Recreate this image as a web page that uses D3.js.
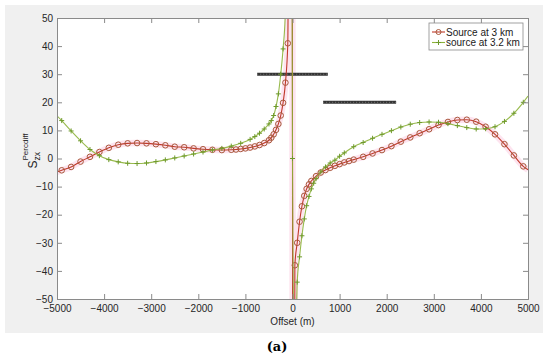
<!DOCTYPE html>
<html>
<head>
<meta charset="utf-8">
<title>S zx Percdiff vs offset</title>
<script src="https://d3js.org/d3.v7.min.js"></script>
<style>
  body { margin: 0; background: #fff; }
  svg { display: block; font-family: 'Liberation Sans', Arial, sans-serif; }
  .tick text { font-size: 10px; fill: #262626; }
  .tick line, .domain { stroke: #8a8a8a; }
</style>
</head>
<body>
<svg></svg>
<script>
// source at 3 km (red, circles)
const redX = [-5000, -4900, -4700, -4500, -4300, -4100, -3900, -3700, -3500, -3300, -3100, -2900, -2700,
  -2500, -2300, -2100, -1900, -1700, -1500, -1300, -1200, -1100, -1000, -900, -800, -700, -600, -500,
  -450, -400, -350, -300, -250, -200, -150, -100, -25, 25, 50, 100, 150, 200, 250, 300, 350, 400,
  500, 600, 700, 800, 900, 1000, 1100, 1200, 1300, 1500, 1700, 1900, 2100, 2300, 2500, 2700, 2900,
  3100, 3300, 3500, 3700, 3900, 4100, 4300, 4500, 4700, 4900, 5000];
const redY = [-4.8, -4.2, -3.0, -1.1, 0.6, 2.3, 3.8, 4.9, 5.4, 5.5, 5.4, 5.1, 4.7,
  4.2, 4.0, 3.6, 3.3, 3.1, 3.0, 3.1, 3.2, 3.4, 3.6, 3.9, 4.3, 4.8, 5.5, 6.5,
  7.4, 8.6, 10.2, 12.3, 15.3, 19.8, 27, 41, 400, -400, -38, -30, -22.5, -17, -13.3, -10.8, -9.2, -8.0,
  -6.3, -5.0, -4.1, -3.3, -2.6, -2.0, -1.4, -0.9, -0.4, 0.6, 1.8, 3.0, 4.4, 6.0, 7.5, 9.0, 10.4,
  11.9, 13.0, 13.7, 13.8, 13.1, 11.3, 8.6, 5.1, 1.1, -2.8, -4.0];

// source at 3.2 km (green, plus signs)
const greenX = [-5000, -4900, -4700, -4500, -4300, -4100, -3900, -3700, -3500, -3300, -3100, -2900, -2700,
  -2500, -2300, -2100, -1900, -1700, -1500, -1300, -1100, -900, -800, -700, -600, -500,
  -450, -400, -350, -300, -250, -200, -150, -50, 0, 50, 100, 150, 200, 250, 300, 350, 400, 450,
  500, 600, 700, 800, 900, 1000, 1100, 1300, 1500, 1700, 1900, 2100, 2300, 2500, 2700, 2900,
  3100, 3300, 3500, 3700, 3900, 4100, 4300, 4500, 4700, 4900, 5000];
const greenY = [15.2, 13.5, 9.8, 6.3, 3.2, 1.0, -0.4, -1.2, -1.7, -1.8, -1.6, -1.1, -0.5,
  0.2, 0.9, 1.6, 2.3, 3.0, 3.6, 4.4, 5.4, 6.8, 7.8, 9.0, 10.5, 12.3,
  13.5, 15.3, 18.5, 23, 30, 39, 53, 300, 0, -80, -44, -35, -27.5, -21.5, -16.8, -13.5, -10.8, -8.8,
  -7.2, -4.8, -3.0, -1.6, -0.6, 0.8, 2.0, 4.2, 5.7, 7.2, 8.6, 9.9, 11.2, 12.2, 12.8, 13.0,
  12.9, 12.4, 11.7, 11.0, 10.5, 10.6, 11.3, 13.2, 16.1, 20.0, 22.2];

// black horizontal bars
const barY = [30, 20];
const barStart = [-750, 650];
const barEnd = [750, 2200];

const xTicks = [-5000, -4000, -3000, -2000, -1000, 0, 1000, 2000, 3000, 4000, 5000];
const yTicks = [-50, -40, -30, -20, -10, 0, 10, 20, 30, 40, 50];

const seriesNames = ['Source at 3 km', 'source at 3.2 km'];

const svg = d3.select('svg')
  .attr('width', 550)
  .attr('height', 359);

const margin = { top: 18, left: 57, right: 22, bottom: 60 };
const innerWidth = 550 - margin.left - margin.right;
const innerHeight = 359 - margin.top - margin.bottom;

// figure background
svg.append('rect')
  .attr('x', 5).attr('y', 5)
  .attr('width', 538).attr('height', 328)
  .attr('fill', '#f0f0f0');

const g = svg.append('g')
  .attr('transform', `translate(${margin.left},${margin.top})`);

g.append('rect')
  .attr('width', innerWidth)
  .attr('height', innerHeight)
  .attr('fill', '#fff');

g.append('clipPath').attr('id', 'plot-clip')
  .append('rect')
  .attr('width', innerWidth)
  .attr('height', innerHeight);

const xScale = d3.scaleLinear().domain([-5000, 5000]).range([0, innerWidth]);
const yScale = d3.scaleLinear().domain([-50, 50]).range([innerHeight, 0]);

const redData = redX.map((x, i) => ({ x: x, y: redY[i] }));
const greenData = greenX.map((x, i) => ({ x: x, y: greenY[i] }));

const line = d3.line()
  .x(d => xScale(d.x))
  .y(d => yScale(d.y))
  .curve(d3.curveMonotoneX);

const plot = g.append('g').attr('clip-path', 'url(#plot-clip)');

// pink glow behind the red curve
plot.append('path')
  .datum(redData)
  .attr('d', line)
  .attr('fill', 'none')
  .attr('stroke', '#fcd8e8')
  .attr('stroke-width', 6.5)
  .attr('stroke-opacity', 0.7);

// black bars
barY.forEach((v, i) => {
  plot.append('line')
    .attr('x1', xScale(barStart[i]))
    .attr('x2', xScale(barEnd[i]))
    .attr('y1', yScale(v))
    .attr('y2', yScale(v))
    .attr('stroke', '#333')
    .attr('stroke-width', 3);
  plot.append('line')
    .attr('x1', xScale(barStart[i]))
    .attr('x2', xScale(barEnd[i]))
    .attr('y1', yScale(v))
    .attr('y2', yScale(v))
    .attr('stroke', '#777')
    .attr('stroke-width', 1)
    .attr('stroke-dasharray', '1,2');
});

// red series
plot.append('path')
  .datum(redData)
  .attr('d', line)
  .attr('fill', 'none')
  .attr('stroke', '#c0392b')
  .attr('stroke-width', 1.1);

plot.selectAll('circle.red')
  .data(redData.filter(d => Math.abs(d.x) < 5000))
  .enter().append('circle')
  .attr('class', 'red')
  .attr('cx', d => xScale(d.x))
  .attr('cy', d => yScale(d.y))
  .attr('r', 2.8)
  .attr('fill', 'none')
  .attr('stroke', '#a85a3c')
  .attr('stroke-width', 1);

// green series
plot.append('path')
  .datum(greenData)
  .attr('d', line)
  .attr('fill', 'none')
  .attr('stroke', '#8db33a')
  .attr('stroke-width', 1.1)
  .attr('stroke-opacity', 0.9);

plot.selectAll('path.plus')
  .data(greenData.filter(d => Math.abs(d.x) < 5000))
  .enter().append('path')
  .attr('class', 'plus')
  .attr('transform', d => `translate(${xScale(d.x)},${yScale(d.y)})`)
  .attr('d', 'M-2.5,0H2.5M0,-2.5V2.5')
  .attr('stroke', '#6f9a2c')
  .attr('stroke-width', 1);

// axes, ticks inward on all four sides
const fmt = d3.format('d');
const xAxis = d3.axisBottom(xScale).tickValues(xTicks).tickFormat(fmt).tickSize(-5).tickPadding(6);
const yAxis = d3.axisLeft(yScale).tickValues(yTicks).tickFormat(fmt).tickSize(-5).tickPadding(4);

g.append('g')
  .attr('transform', `translate(0,${innerHeight})`)
  .call(xAxis);
g.append('g').call(yAxis);
g.append('g')
  .call(d3.axisTop(xScale).tickValues(xTicks).tickSize(-5).tickFormat(''));
g.append('g')
  .attr('transform', `translate(${innerWidth},0)`)
  .call(d3.axisRight(yScale).tickValues(yTicks).tickSize(-5).tickFormat(''));

// axis labels
g.append('text')
  .attr('x', xScale(0))
  .attr('y', innerHeight + 26)
  .attr('text-anchor', 'middle')
  .attr('font-size', 10)
  .attr('fill', '#262626')
  .text('Offset (m)');

const yLabel = svg.append('g')
  .attr('transform', 'translate(37,168.5) rotate(-90)')
  .attr('fill', '#262626');
yLabel.append('text').attr('x', 0).attr('y', 0).attr('font-size', 12).text('S');
yLabel.append('text').attr('x', 8).attr('y', -9).attr('font-size', 8).text('Percdiff');
yLabel.append('text').attr('x', 8).attr('y', 3).attr('font-size', 8.5).text('zx');

// legend
const legend = svg.append('g').attr('transform', 'translate(429,23)');
legend.append('rect')
  .attr('width', 94).attr('height', 27)
  .attr('fill', '#fff')
  .attr('stroke', '#8a8a8a')
  .attr('stroke-width', 0.8);

const legendRows = legend.selectAll('g.row')
  .data(seriesNames)
  .enter().append('g')
  .attr('class', 'row')
  .attr('transform', (d, i) => `translate(0,${9 + i * 10.5})`);

legendRows.append('line')
  .attr('x1', 3).attr('x2', 16)
  .attr('stroke', (d, i) => i === 0 ? '#c0392b' : '#8db33a')
  .attr('stroke-width', 1.1);

legendRows.filter((d, i) => i === 0).append('circle')
  .attr('cx', 9.5).attr('r', 2.5)
  .attr('fill', 'none').attr('stroke', '#a85a3c');

legendRows.filter((d, i) => i === 1).append('path')
  .attr('transform', 'translate(9.5,0)')
  .attr('d', 'M-2.5,0H2.5M0,-2.5V2.5')
  .attr('stroke', '#6f9a2c');

legendRows.append('text')
  .attr('x', 17)
  .attr('y', 3.5)
  .attr('font-size', 10)
  .attr('fill', '#1a1a1a')
  .text(d => d);

// panel label
svg.append('text')
  .attr('x', 277)
  .attr('y', 351)
  .attr('text-anchor', 'middle')
  .attr('font-family', "'DejaVu Serif', serif")
  .attr('font-weight', 'bold')
  .attr('font-size', 13)
  .text('(a)');
</script>
</body>
</html>
